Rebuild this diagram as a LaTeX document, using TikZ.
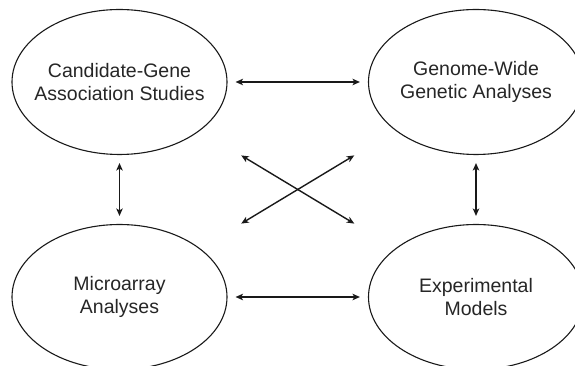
\documentclass[tikz,border=0pt]{standalone}
\usepackage{fontspec}
\setmainfont{Liberation Sans}
\usepackage{tikz}
\usetikzlibrary{arrows.meta,shapes.geometric}
\tikzset{area/.style={ellipse,draw=black!90,line width=1.1pt,minimum width=215pt,minimum height=145pt,
                      inner xsep=-14pt,inner ysep=0pt,align=center,text=black!85,
                      font=\fontsize{19.5}{23}\selectfont},
         link/.style={<->,>={Stealth[length=7.5pt,width=6.5pt,inset=2pt]},draw=black!90,line width=1.4pt,
                      shorten <=8pt,shorten >=8pt},
         cross/.style={link,shorten <=48pt,shorten >=48pt}
}

\begin{document}
\begin{tikzpicture}[x=1pt,y=1pt]
  \useasboundingbox (0,0) rectangle (575,366);
  % the four study areas
  \node[area] (cand)  at (119.5,284) {Candidate-Gene\\Association Studies};
  \node[area] (gwide) at (476,284)   {Genome-Wide\\Genetic Analyses};
  \node[area] (micro) at (119.5,69)  {Microarray\\Analyses};
  \node[area] (expm)  at (476,69)    {Experimental\\Models};
  % links
  \draw[link] (cand.east) -- (gwide.west);
  \draw[link] (micro.east) -- (expm.west);
  \draw[link] (cand.south) -- (micro.north);
  \draw[link] (gwide.south) -- (expm.north);
  \draw[cross] (cand) -- (expm);
  \draw[cross] (micro) -- (gwide);
\end{tikzpicture}
\end{document}
